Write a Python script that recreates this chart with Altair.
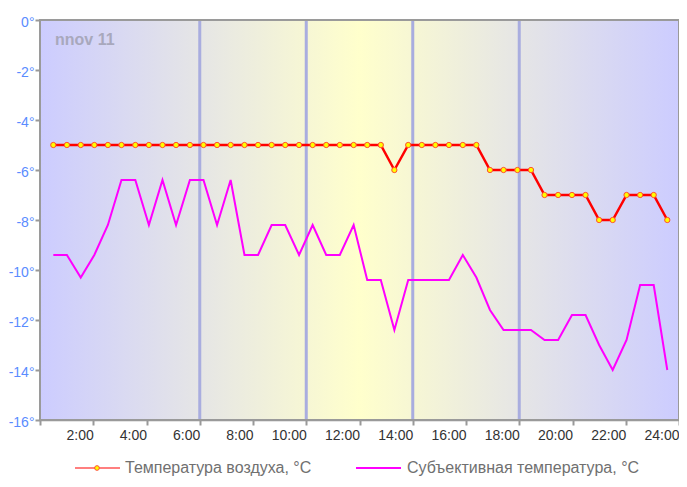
import altair as alt
import pandas as pd

hours = [0.50, 1.01, 1.53, 2.04, 2.55, 3.06, 3.58, 4.09, 4.60, 5.11, 5.63, 6.14,
         6.65, 7.16, 7.68, 8.19, 8.70, 9.21, 9.73, 10.24, 10.75, 11.26, 11.78, 12.29,
         12.80, 13.31, 13.83, 14.34, 14.85, 15.36, 15.88, 16.39, 16.90, 17.41, 17.93,
         18.44, 18.95, 19.46, 19.98, 20.49, 21.00, 21.51, 22.03, 22.54, 23.05, 23.56]

air_temp = [-5, -5, -5, -5, -5, -5, -5, -5, -5, -5, -5, -5, -5, -5, -5, -5, -5, -5,
            -5, -5, -5, -5, -5, -5, -5, -6, -5, -5, -5, -5, -5, -5, -6, -6, -6, -6,
            -7, -7, -7, -7, -8, -8, -7, -7, -7, -8]

feels_temp = [-9.4, -9.4, -10.3, -9.4, -8.2, -6.4, -6.4, -8.2, -6.4, -8.2, -6.4, -6.4,
              -8.2, -6.4, -9.4, -9.4, -8.2, -8.2, -9.4, -8.2, -9.4, -9.4, -8.2, -10.4,
              -10.4, -12.4, -10.4, -10.4, -10.4, -10.4, -9.4, -10.3, -11.6, -12.4, -12.4,
              -12.4, -12.8, -12.8, -11.8, -11.8, -13.0, -14.0, -12.8, -10.6, -10.6, -14.0]

day_lines = [6, 10, 14, 18]
x_ticks = [0, 2, 4, 6, 8, 10, 12, 14, 16, 18, 20, 22, 24]
y_ticks = [0, -2, -4, -6, -8, -10, -12, -14, -16]

title_text = "nnov 11"
legend_air = "Температура воздуха, °C"
legend_feels = "Субъективная температура, °C"

FONT = "Liberation Sans"

df = pd.DataFrame({"hour": hours, "air": air_temp, "feels": feels_temp})
bg = pd.DataFrame({"x": [0], "x2": [24], "y": [0], "y2": [-16]})
vl = pd.DataFrame({"hour": day_lines})

xscale = alt.Scale(domain=[0, 24], nice=False, zero=False)
yscale = alt.Scale(domain=[-16, 0], nice=False, zero=False)

gradient = alt.Gradient(
    gradient="linear",
    stops=[alt.GradientStop(color="#ccccff", offset=0),
           alt.GradientStop(color="#ffffcc", offset=0.5),
           alt.GradientStop(color="#ccccff", offset=1)],
    x1=0, x2=1, y1=0, y2=0,
)

background = alt.Chart(bg).mark_rect(fill=gradient).encode(
    x=alt.X("x:Q", scale=xscale, title=None,
            axis=alt.Axis(values=x_ticks, grid=False,
                          labelExpr="datum.value == 0 ? '' : datum.value + ':00'")),
    x2="x2:Q",
    y=alt.Y("y:Q", scale=yscale, title=None,
            axis=alt.Axis(values=y_ticks, grid=True, labelExpr="datum.value + '°'")),
    y2="y2:Q",
)

border = alt.Chart(bg).mark_rect(fillOpacity=0, stroke="#9a9a9a", strokeWidth=2).encode(
    x=alt.X("x:Q", scale=xscale, title=None), x2="x2:Q",
    y=alt.Y("y:Q", scale=yscale, title=None), y2="y2:Q",
)

vlines = alt.Chart(vl).mark_rule(color="#a9addf", strokeWidth=3).encode(
    x=alt.X("hour:Q", scale=xscale, title=None),
)

feels_line = alt.Chart(df).mark_line(color="#ff00ff", strokeWidth=2).encode(
    x=alt.X("hour:Q", scale=xscale, title=None),
    y=alt.Y("feels:Q", scale=yscale, title=None),
)

air_line = alt.Chart(df).mark_line(color="#ff0000", strokeWidth=2.5).encode(
    x=alt.X("hour:Q", scale=xscale, title=None),
    y=alt.Y("air:Q", scale=yscale, title=None),
)

air_pts = alt.Chart(df).mark_point(filled=True, fill="#ffff00", stroke="#ff5030",
                                   strokeWidth=1, size=28, opacity=1).encode(
    x=alt.X("hour:Q", scale=xscale, title=None),
    y=alt.Y("air:Q", scale=yscale, title=None),
)

title = alt.Chart(bg).mark_text(text=title_text, font=FONT, fontSize=16, fontWeight="bold",
                                color="#a8a8bc", align="left", baseline="alphabetic").encode(
    x=alt.value(15), y=alt.value(25)
)

# Legend drawn below the plot area
leg_line1 = alt.Chart(bg).mark_rule(color="#ff7f7f", strokeWidth=2).encode(
    x=alt.value(35), x2=alt.value(80), y=alt.value(448))
leg_pt1 = alt.Chart(bg).mark_point(filled=True, fill="#ffff00", stroke="#ff5030",
                                   strokeWidth=1, size=22, opacity=1).encode(
    x=alt.value(57), y=alt.value(448))
leg_text1 = alt.Chart(bg).mark_text(text=legend_air, font=FONT, fontSize=16,
                                    color="#707070", align="left", baseline="middle").encode(
    x=alt.value(85), y=alt.value(448))
leg_line2 = alt.Chart(bg).mark_rule(color="#ff00ff", strokeWidth=2).encode(
    x=alt.value(316), x2=alt.value(361), y=alt.value(448))
leg_text2 = alt.Chart(bg).mark_text(text=legend_feels, font=FONT, fontSize=16,
                                    color="#707070", align="left", baseline="middle").encode(
    x=alt.value(367), y=alt.value(448))

chart = alt.layer(
    background, vlines, border, feels_line, air_line, air_pts, title,
    leg_line1, leg_pt1, leg_text1, leg_line2, leg_text2,
).properties(
    width=639, height=400,
    autosize=alt.AutoSizeParams(type="none"),
    padding={"left": 32, "top": 12, "right": 0, "bottom": 62},
).configure_view(
    strokeWidth=0
).configure_axis(
    domain=False, labelFont=FONT,
    tickColor="#999999", tickWidth=2,
).configure_axisX(
    labelAlign="right", labelOffset=0, labelPadding=3, labelColor="#333333",
    labelFontSize=14, tickSize=5,
).configure_axisY(
    gridColor="#888888", gridOpacity=0.45, gridWidth=2,
    labelPadding=1, labelOffset=2, labelColor="#5a8cff", labelFontSize=14, tickSize=5,
)

chart.save("out.html", embed_options={"renderer": "svg", "actions": False})
